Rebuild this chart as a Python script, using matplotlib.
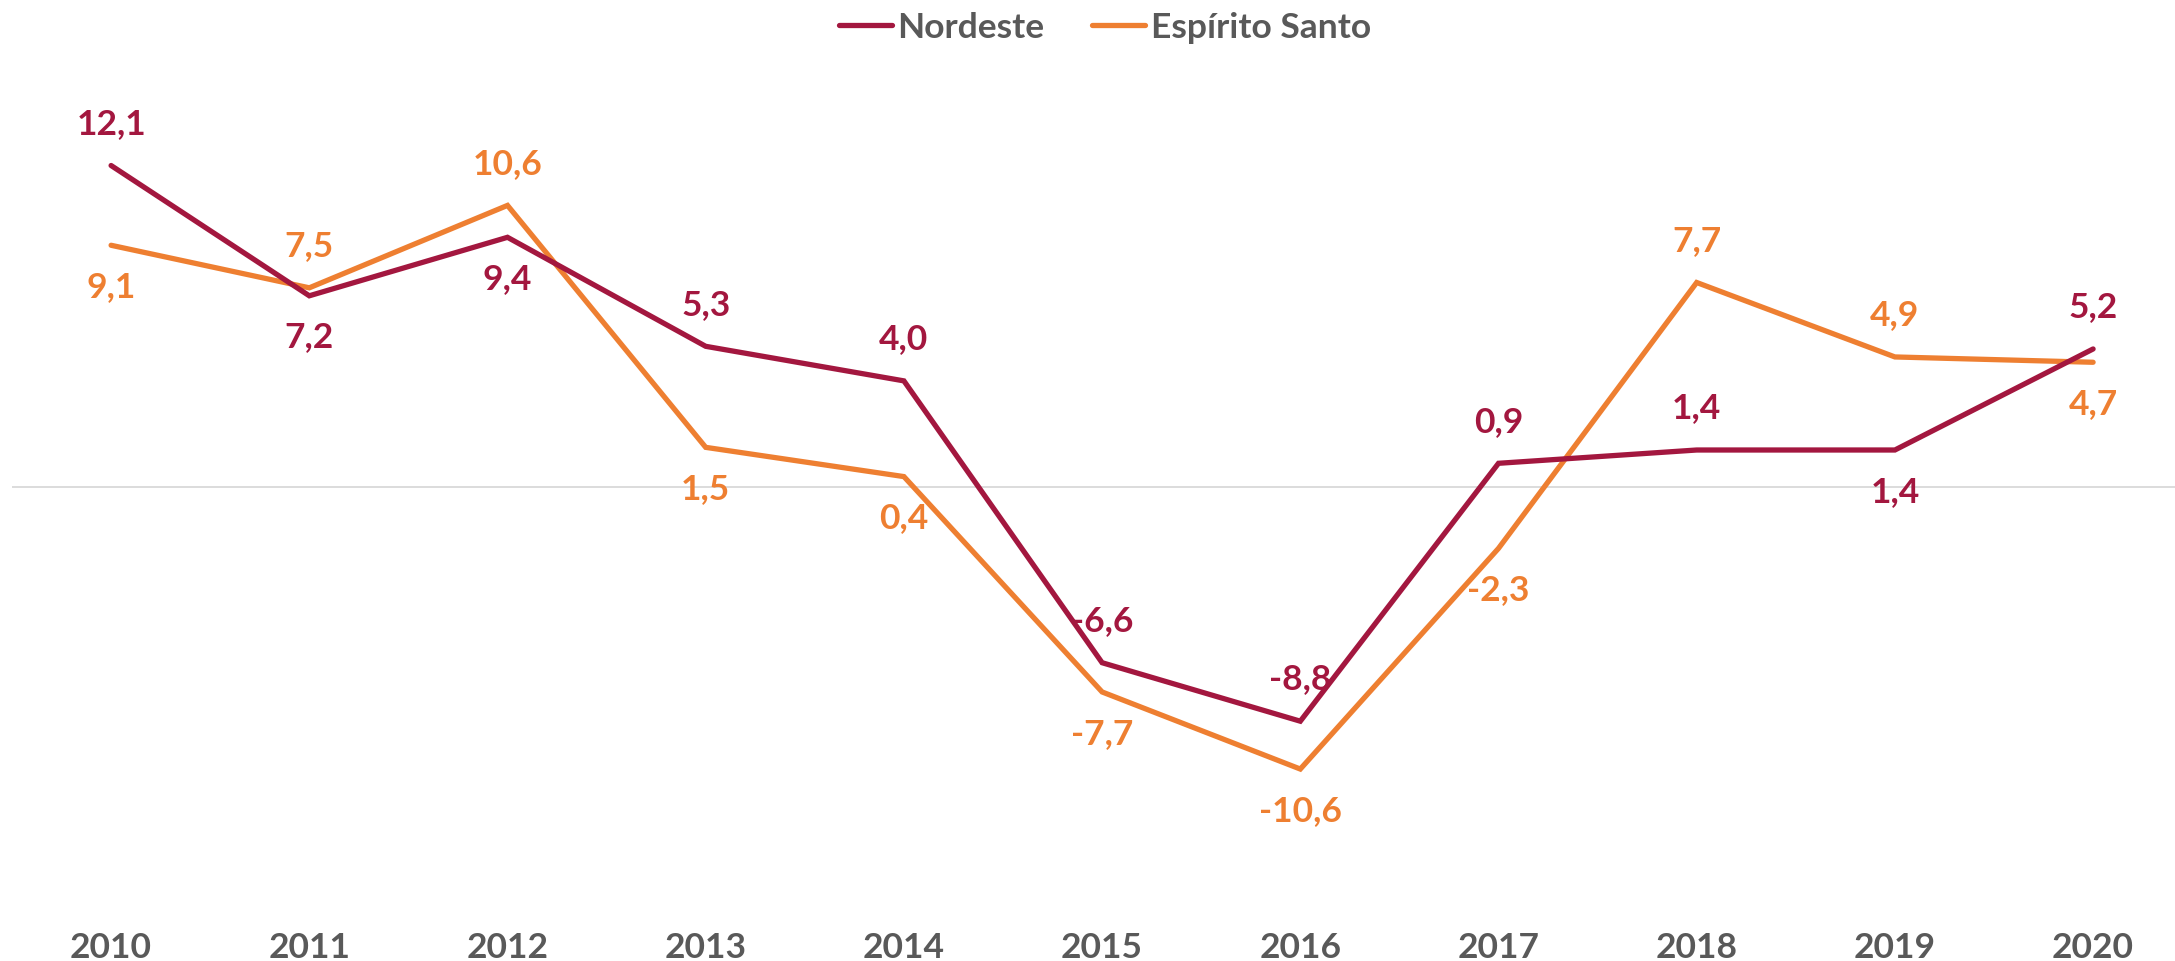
import matplotlib
matplotlib.use("Agg")
import matplotlib.pyplot as plt
from matplotlib.lines import Line2D

# Data
years = ["2010", "2011", "2012", "2013", "2014", "2015", "2016", "2017", "2018", "2019", "2020"]
nordeste = [12.1, 7.2, 9.4, 5.3, 4.0, -6.6, -8.8, 0.9, 1.4, 1.4, 5.2]
espirito_santo = [9.1, 7.5, 10.6, 1.5, 0.4, -7.7, -10.6, -2.3, 7.7, 4.9, 4.7]

# Label placement: +1 above the point, -1 below
nordeste_pos = [1, -1, -1, 1, 1, 1, 1, 1, 1, -1, 1]
es_pos = [-1, 1, 1, -1, -1, -1, -1, -1, 1, 1, -1]

C_NE = "#A3173F"
C_ES = "#EE7F31"
C_TXT = "#595959"
FONT = ["Lato", "DejaVu Sans"]
FS = 25.5

plt.rcParams["font.family"] = FONT
plt.rcParams["font.weight"] = "bold"

W, H = 2175, 961
fig = plt.figure(figsize=(W / 100, H / 100), dpi=100)
ax_left = 12 / W
ax_w = 11 * 198.2 / W
ax = fig.add_axes([ax_left, 0.078, ax_w, 0.830])

x = list(range(len(years)))
ax.plot(x, nordeste, color=C_NE, lw=3.8, solid_capstyle="round", solid_joinstyle="miter", zorder=3)
ax.plot(x, espirito_santo, color=C_ES, lw=3.8, solid_capstyle="round", solid_joinstyle="miter", zorder=2)

ax.axhline(0, color="#D9D9D9", lw=1.3, zorder=1)

def fmt(v):
    return f"{v:.1f}".replace(".", ",")

for xi, v, p in zip(x, nordeste, nordeste_pos):
    ax.annotate(fmt(v), (xi, v), xytext=(0, 30 * p), textcoords="offset points",
                ha="center", va="center", color=C_NE, fontsize=FS, fontweight="bold")
for xi, v, p in zip(x, espirito_santo, es_pos):
    ax.annotate(fmt(v), (xi, v), xytext=(0, 30 * p), textcoords="offset points",
                ha="center", va="center", color=C_ES, fontsize=FS, fontweight="bold")

ax.set_xlim(-0.5, 10.5)
ax.set_ylim(-15, 15)
ax.set_xticks(x)
ax.set_xticklabels(years, fontsize=FS, fontweight="bold", color=C_TXT)
ax.tick_params(axis="x", length=0, pad=33)
ax.set_yticks([])
for s in ax.spines.values():
    s.set_visible(False)

handles = [Line2D([0], [0], color=C_NE, lw=3.8, solid_capstyle="round"),
           Line2D([0], [0], color=C_ES, lw=3.8, solid_capstyle="round")]
leg = fig.legend(handles, ["Nordeste", "Espírito Santo"], loc="center",
                 bbox_to_anchor=(0.508, 0.971), ncol=2, frameon=False,
                 handlelength=1.5, handletextpad=0.15, columnspacing=1.35,
                 prop={"family": FONT, "weight": "bold", "size": FS})
for t in leg.get_texts():
    t.set_color(C_TXT)

fig.savefig("out.png", dpi=100)
